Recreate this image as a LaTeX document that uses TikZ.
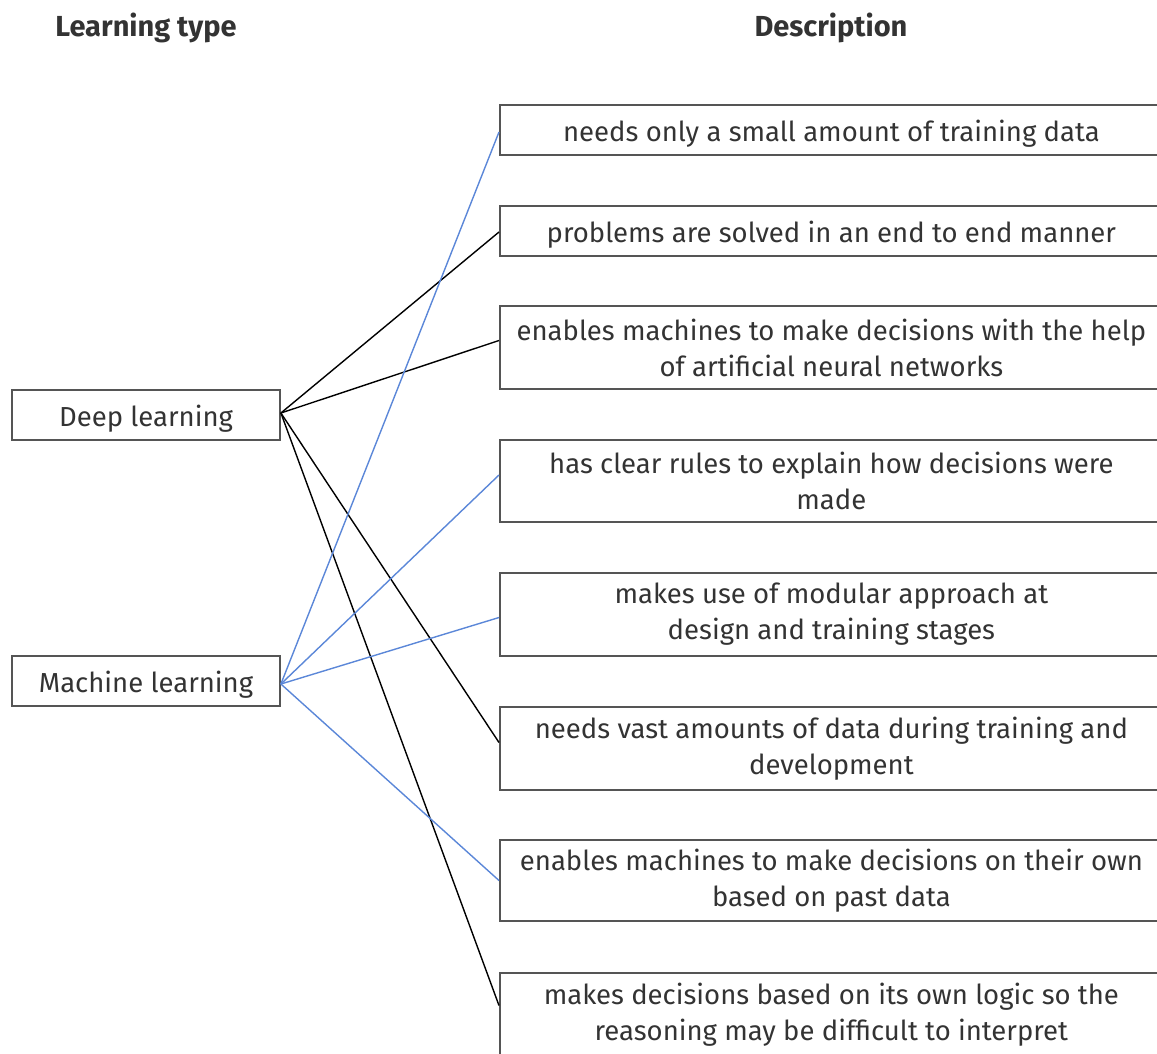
\documentclass[tikz,border=0pt]{standalone}
\usepackage{fontspec}
\setmainfont{Fira Sans}
\usetikzlibrary{positioning}
\definecolor{inkgray}{HTML}{333333}
\definecolor{framegray}{HTML}{555555}
\definecolor{mlblue}{HTML}{5B87D8}
\begin{document}
\begin{tikzpicture}[x=1pt,y=-1pt,
  typebox/.style={draw=framegray,line width=1.8pt,minimum width=268pt,minimum height=50pt,
    inner sep=0pt,text=inkgray,text height=22pt,text depth=0pt,font=\fontsize{27.5}{30}\selectfont},
  descbox/.style={draw=framegray,line width=1.8pt,minimum width=663pt,inner sep=0pt,
    anchor=west,align=center,text=inkgray,font=\fontsize{27.5}{36}\selectfont},
  oneline/.style={descbox,minimum height=50pt,text height=22pt,text depth=0pt},
  heading/.style={text=inkgray,font=\fontsize{29}{32}\selectfont\bfseries},
  dllink/.style={black,line width=1.4pt},
  mllink/.style={mlblue,line width=1.4pt}]
\useasboundingbox (0,0) rectangle (1157,1053);
\clip (0,0) rectangle (1157,1053);

% column headings
\node[heading] (h1) at (146,28) {Learning type};
\node[heading] (h2) at (831,28) {Description};

% learning types
\node[typebox] (dl) at (146,415) {Deep learning};
\node[typebox] (ml) at (146,681) {Machine learning};

% descriptions
\node[oneline] (b1) at (499,130) {needs only a small amount of training data};
\node[oneline] (b2) at (499,231) {problems are solved in an end to end manner};
\node[descbox,minimum height=83pt] (b3) at (499,347.5) {enables machines to make decisions with the help\\of artificial neural networks};
\node[descbox,minimum height=82pt] (b4) at (499,481) {has clear rules to explain how decisions were\\made};
\node[descbox,minimum height=83pt] (b5) at (499,614.5) {makes use of modular approach at\\design and training stages};
\node[descbox,minimum height=83pt] (b6) at (499,748.5) {needs vast amounts of data during training and\\development};
\node[descbox,minimum height=81pt] (b7) at (499,880.5) {enables machines to make decisions on their own\\based on past data};
\node[descbox,minimum height=83pt] (b8) at (499,1014.5) {makes decisions based on its own logic so the\\reasoning may be difficult to interpret};

% connection points on the description boxes
\coordinate (e1) at ([yshift=-2pt]b1.west);
\coordinate (e2) at ([yshift=-1pt]b2.west);
\coordinate (e3) at ([yshift=7pt]b3.west);
\coordinate (e4) at ([yshift=6pt]b4.west);
\coordinate (e5) at ([yshift=-3pt]b5.west);
\coordinate (e6) at ([yshift=6pt]b6.west);
\coordinate (e7) at (b7.west);
\coordinate (e8) at ([yshift=9pt]b8.west);
\coordinate (sdl) at ([yshift=2pt]dl.east);
\coordinate (sml) at ([yshift=-3pt]ml.east);

% deep learning links
\draw[dllink] (sdl) -- (e2);
\draw[dllink] (sdl) -- (e3);
\draw[dllink] (sdl) -- (e6);
\draw[dllink] (sdl) -- (e8);

% machine learning links
\draw[mllink] (sml) -- (e1);
\draw[mllink] (sml) -- (e4);
\draw[mllink] (sml) -- (e5);
\draw[mllink] (sml) -- (e7);
\end{tikzpicture}
\end{document}
